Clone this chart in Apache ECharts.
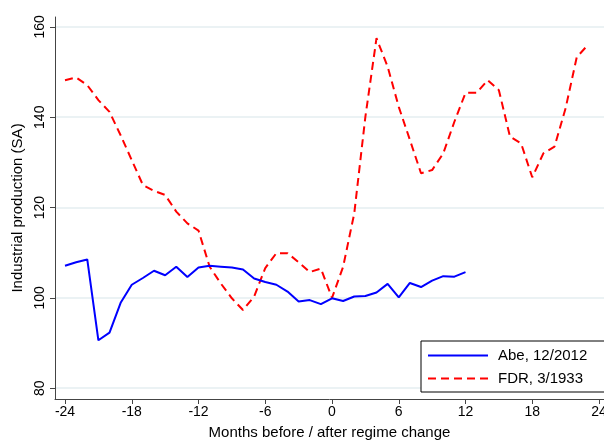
<!DOCTYPE html>
<html>
<head>
<meta charset="utf-8">
<script src="https://cdn.jsdelivr.net/npm/echarts@6/dist/echarts.min.js"></script>
<style>
html,body{margin:0;padding:0;background:#fff;}
#chart{width:604px;height:440px;}
</style>
</head>
<body>
<div id="chart"></div>
<script>
const abeMonths = [-24,-23,-22,-21,-20,-19,-18,-17,-16,-15,-14,-13,-12,-11,-10,-9,-8,-7,-6,-5,-4,-3,-2,-1,0,1,2,3,4,5,6,7,8,9,10,11,12];
const abeValues = [107.1,107.9,108.5,90.6,92.3,98.9,102.9,104.4,106.0,105.0,106.9,104.6,106.7,107.1,106.9,106.7,106.3,104.3,103.5,102.9,101.4,99.2,99.5,98.6,99.9,99.3,100.3,100.4,101.2,103.1,100.1,103.3,102.4,103.8,104.8,104.7,105.7];
const fdrMonths = [-24,-23,-22,-21,-20,-19,-18,-17,-16,-15,-14,-13,-12,-11,-10,-9,-8,-7,-6,-5,-4,-3,-2,-1,0,1,2,3,4,5,6,7,8,9,10,11,12,13,14,15,16,17,18,19,20,21,22,23];
const fdrValues = [148.2,148.8,147.1,143.8,141.2,136.0,130.5,125.0,123.7,122.8,119.1,116.5,114.9,106.9,103.2,99.9,97.3,100.3,106.6,109.9,109.9,107.9,105.7,106.5,100.0,106.9,118.7,140.1,157.5,151.2,142.3,135.0,127.6,128.3,132.0,139.0,145.4,145.4,148.2,146.0,135.7,134.2,126.7,132.0,133.5,142.0,153.3,156.0];
const xTicks = [-24,-18,-12,-6,0,6,12,18,24];
const yTicks = [80,100,120,140,160];
const seriesNames = ['Abe, 12/2012','FDR, 3/1933'];

const pairs = (xs, ys) => xs.map((x, i) => [x, ys[i]]);
const font = 'Liberation Sans, Arial, Helvetica, sans-serif';
const axisColor = '#444';

const chart = echarts.init(document.getElementById('chart'), null, {renderer: 'canvas'});
chart.setOption({
  backgroundColor: '#fff',
  animation: false,
  textStyle: {fontFamily: font},
  grid: {left: 55, right: 0, top: 17, bottom: 41, containLabel: false, outerBoundsMode: 'none'},
  xAxis: {
    type: 'value', min: -24.9, max: 24.45,
    name: 'Months before / after regime change',
    nameLocation: 'middle', nameGap: 26,
    nameTextStyle: {fontSize: 15, color: '#000', fontFamily: font},
    axisLine: {show: true, onZero: false, lineStyle: {color: axisColor, width: 1}},
    axisTick: {show: true, length: 5, lineStyle: {color: axisColor}, customValues: xTicks},
    axisLabel: {customValues: xTicks, fontSize: 14, color: '#000', margin: 6, fontFamily: font},
    splitLine: {show: false}
  },
  yAxis: {
    type: 'value', min: 77.6, max: 162.2,
    name: 'Industrial production (SA)',
    nameLocation: 'middle', nameGap: 28, nameRotate: 90,
    nameTextStyle: {fontSize: 15, color: '#000', fontFamily: font},
    axisLine: {show: true, onZero: false, lineStyle: {color: axisColor, width: 1}},
    axisTick: {show: true, length: 5, lineStyle: {color: axisColor}, customValues: yTicks},
    axisLabel: {customValues: yTicks, fontSize: 14, color: '#000', margin: 8, rotate: 90, fontFamily: font},
    splitLine: {show: true, lineStyle: {color: '#e5eef0', width: 1.5}}
  },
  legend: {
    orient: 'vertical',
    left: 421, top: 341,
    padding: [7, 30, 6, 6],
    itemGap: 8,
    itemWidth: 60, itemHeight: 14,
    borderColor: '#000', borderWidth: 1,
    backgroundColor: '#fff',
    itemStyle: {opacity: 0},
    textStyle: {fontSize: 15, color: '#000', fontFamily: font, padding: [0, 0, 0, 5]},
    data: seriesNames
  },
  series: [
    {
      name: seriesNames[0], type: 'line', data: pairs(abeMonths, abeValues),
      symbol: 'none', lineStyle: {color: '#0000ff', width: 2}, itemStyle: {color: '#0000ff'}, z: 3
    },
    {
      name: seriesNames[1], type: 'line', data: pairs(fdrMonths, fdrValues),
      symbol: 'none', lineStyle: {color: '#ff0000', width: 2, type: [8, 5]}, itemStyle: {color: '#ff0000'}, z: 2
    }
  ]
});
</script>
</body>
</html>
